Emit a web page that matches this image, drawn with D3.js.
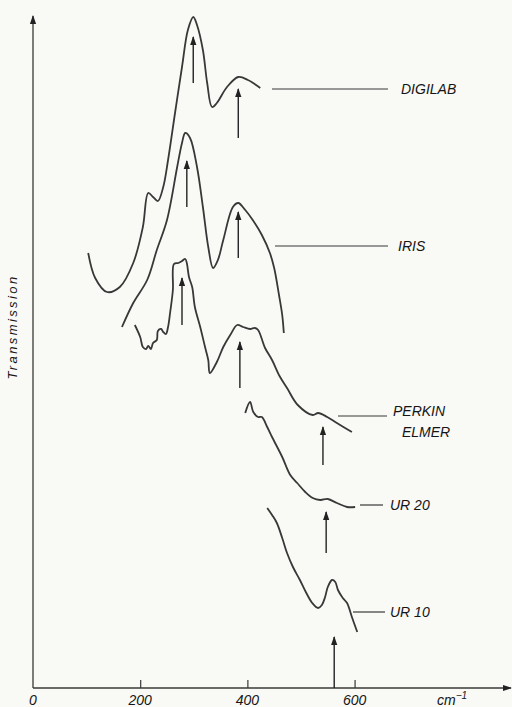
<!DOCTYPE html>
<html>
<head>
<meta charset="utf-8">
<script src="https://cdn.jsdelivr.net/npm/d3@7"></script>
<style>
  html, body { margin: 0; padding: 0; background: #f9f9f6; }
  svg { display: block; }
  text { font-family: "Liberation Sans", Arial, sans-serif; font-style: italic; fill: #151515; }
</style>
</head>
<body>
<div id="chart"></div>
<script>
// wavenumber (cm-1) / relative transmission (arbitrary units)
const digilabX = [103, 116, 138, 162, 187, 205, 215, 224, 233, 243, 252, 265, 278, 289, 299, 306, 317, 325, 334, 343, 362, 383, 401, 424];
const digilabY = [435, 410, 396, 401, 425, 461, 495, 491, 487, 501, 528, 575, 621, 658, 671, 663, 638, 605, 581, 585, 601, 611, 608, 600];

const irisX = [166, 187, 213, 231, 250, 269, 278, 284, 293, 306, 317, 327, 336, 345, 355, 373, 383, 396, 410, 427, 442, 450, 459, 465, 468];
const irisY = [361, 385, 408, 438, 468, 521, 545, 555, 550, 521, 481, 441, 420, 428, 448, 481, 485, 478, 468, 453, 435, 420, 393, 373, 355];

const perkinX = [190, 200, 205, 211, 215, 220, 224, 231, 233, 239, 243, 248, 252, 256, 261, 263, 271, 278, 284, 287, 291, 297, 302, 312, 321, 327, 330, 343, 355, 368, 381, 392, 405, 414, 420, 433, 446, 460, 474, 494, 522, 532, 549, 567, 595];
const perkinY = [363, 351, 341, 339, 342, 339, 345, 348, 357, 359, 356, 354, 361, 376, 398, 424, 425, 427, 429, 425, 411, 401, 381, 361, 341, 328, 315, 326, 341, 353, 363, 361, 359, 360, 358, 340, 328, 312, 300, 283, 273, 275, 271, 265, 256];

const ur20X = [396, 405, 411, 420, 427, 437, 446, 465, 480, 493, 508, 522, 536, 550, 567, 586, 601];
const ur20Y = [275, 286, 276, 271, 271, 261, 251, 231, 213, 205, 196, 190, 188, 189, 185, 181, 181];

const ur10X = [437, 446, 455, 465, 474, 485, 498, 509, 521, 532, 539, 545, 550, 558, 564, 569, 578, 586, 595, 605];
const ur10Y = [180, 173, 165, 150, 135, 121, 108, 96, 85, 80, 83, 91, 101, 108, 106, 98, 90, 85, 71, 56];

// marked bands: position, arrow tail, arrow tip
const arrowX    = [299, 383, 287, 383, 278, 386, 541, 547, 562];
const arrowFrom = [605, 550, 481, 430, 363, 300, 223, 135, 0];
const arrowTo   = [651, 599, 527, 476, 410, 346, 261, 176, 51];

const seriesNames = ["DIGILAB", "IRIS", "PERKIN ELMER", "UR 20", "UR 10"];
const xTicks = [0, 200, 400, 600];

const series = [
  [digilabX, digilabY], [irisX, irisY], [perkinX, perkinY], [ur20X, ur20Y], [ur10X, ur10Y]
].map(([xs, ys]) => xs.map((v, i) => ({ x: v, y: ys[i] })));

// label leader lines (pixel layout)
const labelLayout = [
  { x1: 272, x2: 388, y: 89,  tx: 401, ty: 94 },
  { x1: 275, x2: 388, y: 246, tx: 398, ty: 251 },
  { x1: 338, x2: 387, y: 416, tx: 393, ty: 416 },
  { x1: 360, x2: 383, y: 505, tx: 390, ty: 510 },
  { x1: 353, x2: 385, y: 612, tx: 390, ty: 617 }
];

const width = 512, height = 707;
const ink = "#383838";

const svg = d3.select("#chart").append("svg")
  .attr("width", width)
  .attr("height", height);

const x = d3.scaleLinear().domain([0, 890]).range([33, 510]);
const y = d3.scaleLinear().domain([0, 670]).range([688, 18]);

const defs = svg.append("defs");
defs.append("marker")
  .attr("id", "head")
  .attr("viewBox", "0 0 10 10")
  .attr("refX", 9).attr("refY", 5)
  .attr("markerWidth", 9).attr("markerHeight", 9)
  .attr("markerUnits", "userSpaceOnUse")
  .attr("orient", "auto")
  .append("path")
  .attr("d", "M0,1.5 L10,5 L0,8.5 Z")
  .attr("fill", "#222");

// axes
const xAxis = svg.append("g")
  .attr("transform", `translate(0,${y(0)})`)
  .call(d3.axisTop(x).tickValues(xTicks).tickSize(8).tickFormat(""));
xAxis.select(".domain").remove();
xAxis.selectAll(".tick line").attr("stroke", ink).attr("stroke-width", 1.2)
  .filter(d => d === 0).remove();

svg.append("line")
  .attr("x1", x(0)).attr("y1", y(0)).attr("x2", 511).attr("y2", y(0))
  .attr("stroke", ink).attr("stroke-width", 1.3)
  .attr("marker-end", "url(#head)");
svg.append("line")
  .attr("x1", x(0)).attr("y1", y(0)).attr("x2", x(0)).attr("y2", 16)
  .attr("stroke", ink).attr("stroke-width", 1.3)
  .attr("marker-end", "url(#head)");

svg.selectAll(".xlab").data(xTicks).enter().append("text")
  .attr("class", "xlab")
  .attr("x", d => x(d))
  .attr("y", 705)
  .attr("text-anchor", "middle")
  .style("font-size", "14px")
  .text(d => d);

const unit = svg.append("text")
  .attr("x", 437).attr("y", 705)
  .style("font-size", "14px");
unit.append("tspan").text("cm");
unit.append("tspan").attr("dy", -6).style("font-size", "10px").text("−1");

svg.append("text")
  .attr("transform", "translate(17,327) rotate(-90)")
  .attr("text-anchor", "middle")
  .style("font-size", "13px")
  .style("letter-spacing", "2.4px")
  .text("Transmission");

// spectra
const line = d3.line()
  .x(d => x(d.x))
  .y(d => y(d.y))
  .curve(d3.curveCatmullRom.alpha(0.5));

svg.selectAll(".spectrum").data(series).enter().append("path")
  .attr("class", "spectrum")
  .attr("d", line)
  .attr("fill", "none")
  .attr("stroke", ink)
  .attr("stroke-width", 1.8)
  .attr("stroke-linejoin", "round");

// band arrows
svg.selectAll(".band").data(arrowX).enter().append("line")
  .attr("class", "band")
  .attr("x1", d => x(d)).attr("x2", d => x(d))
  .attr("y1", (d, i) => y(arrowFrom[i]))
  .attr("y2", (d, i) => y(arrowTo[i]))
  .attr("stroke", "#222")
  .attr("stroke-width", 1.4)
  .attr("marker-end", "url(#head)");

// instrument labels
svg.selectAll(".leader").data(labelLayout).enter().append("line")
  .attr("class", "leader")
  .attr("x1", d => d.x1).attr("x2", d => d.x2)
  .attr("y1", d => d.y).attr("y2", d => d.y)
  .attr("stroke", ink).attr("stroke-width", 1.2);

labelLayout.forEach((d, i) => {
  const t = svg.append("text")
    .attr("x", d.tx).attr("y", d.ty)
    .style("font-size", "14px");
  const parts = seriesNames[i].split(" ");
  if (i === 2) {
    t.append("tspan").attr("x", d.tx).text(parts[0]);
    t.append("tspan").attr("x", d.tx + 9).attr("dy", 21).text(parts[1]);
  } else {
    t.text(seriesNames[i]);
  }
});
</script>
</body>
</html>
